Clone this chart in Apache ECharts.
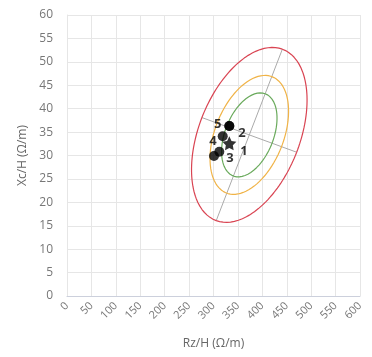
<!DOCTYPE html>
<html><head><meta charset="utf-8">
<script src="https://cdn.jsdelivr.net/npm/echarts@6/dist/echarts.min.js"></script>
<style>html,body{margin:0;padding:0;background:#fff}#c{width:372px;height:357px}</style>
</head><body><div id="c"></div>
<script>
// Measured points
var pointLabels = ['5', '2', '', '3', '4'];
var pointX = [332.4, 332.4, 318.9, 311.9, 301.0];
var pointY = [36.3, 36.3, 34.1, 30.8, 29.9];
var starLabel = ['1'];
var starX = [332.4];
var starY = [32.6];
// Ellipse definition (data units): center, major half-axis vector, minor half-axis vector
var ellipseCenter = [373.3, 34.4];
var ellipseMajor = [67.7, 18.3];
var ellipseMinor = [97.0, -3.7];
var ellipseScales = [1.0, 0.68, 0.48];
var ellipseNames = ['3σ', '2σ', '1.5σ'];
var xTicks = [0, 50, 100, 150, 200, 250, 300, 350, 400, 450, 500, 550, 600];
var yTicks = [0, 5, 10, 15, 20, 25, 30, 35, 40, 45, 50, 55, 60];

var ellipseColors = ['#d94452', '#f0b347', '#6aaa5c'];
var labelStyle = {
  '5': {position: 'left', offset: [2, -2]},
  '2': {position: 'right', offset: [-1, 7]},
  '3': {position: 'right', offset: [-3, 7]},
  '4': {position: 'top', offset: [-1, 2]},
  '1': {position: 'right', offset: [-1, 8]}
};

function ellipsePts(s) {
  var pts = [];
  for (var i = 0; i <= 180; i++) {
    var t = i / 180 * Math.PI * 2;
    pts.push([
      ellipseCenter[0] + s * (Math.cos(t) * ellipseMajor[0] + Math.sin(t) * ellipseMinor[0]),
      ellipseCenter[1] + s * (Math.cos(t) * ellipseMajor[1] + Math.sin(t) * ellipseMinor[1])
    ]);
  }
  return pts;
}
var series = [];
ellipseScales.forEach(function (s, i) {
  series.push({type: 'line', name: ellipseNames[i], data: ellipsePts(s), showSymbol: false, symbol: 'none',
    lineStyle: {color: ellipseColors[i], width: 1.2}, silent: true, z: 2});
});
// principal axes
series.push({type: 'line', data: [
  [ellipseCenter[0] - ellipseMajor[0], ellipseCenter[1] - ellipseMajor[1]],
  [ellipseCenter[0] + ellipseMajor[0], ellipseCenter[1] + ellipseMajor[1]]],
  symbol: 'none', lineStyle: {color: '#aaaaaa', width: 1}, silent: true, z: 1});
series.push({type: 'line', data: [
  [ellipseCenter[0] - ellipseMinor[0], ellipseCenter[1] - ellipseMinor[1]],
  [ellipseCenter[0] + ellipseMinor[0], ellipseCenter[1] + ellipseMinor[1]]],
  symbol: 'none', lineStyle: {color: '#aaaaaa', width: 1}, silent: true, z: 1});

function mkData(xs, ys, labs) {
  return xs.map(function (x, i) {
    var l = labs[i];
    var st = labelStyle[l] || {position: 'right', offset: [0, 0]};
    return {value: [x, ys[i]], name: l, label: {show: !!l, position: st.position, offset: st.offset}};
  });
}
var lbl = {formatter: '{b}', color: '#000', fontSize: 13, fontWeight: 'bold', fontFamily: 'Open Sans'};
series.push({type: 'scatter', data: mkData(pointX, pointY, pointLabels), symbol: 'circle', symbolSize: 10,
  itemStyle: {color: '#000'}, label: lbl, z: 5});
series.push({type: 'scatter', data: mkData(starX, starY, starLabel), symbol: 'path://M0,-10 L2.94,-4.05 9.51,-3.09 4.76,1.55 5.88,8.09 0,5 -5.88,8.09 -4.76,1.55 -9.51,-3.09 -2.94,-4.05 Z', symbolSize: 14,
  itemStyle: {color: '#000'}, label: lbl, z: 5});

var chart = echarts.init(document.getElementById('c'));
chart.setOption({
  animation: false,
  grid: {left: 67, right: 12, top: 15, bottom: 61},
  textStyle: {fontFamily: 'Open Sans'},
  xAxis: {type: 'value', min: xTicks[0], max: xTicks[xTicks.length - 1], interval: 50,
    name: 'Rz/H (Ω/m)', nameLocation: 'middle', nameGap: 42,
    nameTextStyle: {color: '#666', fontSize: 12},
    axisLine: {lineStyle: {color: '#ccd0dc'}}, axisTick: {show: false},
    axisLabel: {rotate: 45, color: '#777', fontSize: 11, margin: 8},
    splitLine: {lineStyle: {color: '#e6e6e6'}}},
  yAxis: {type: 'value', min: yTicks[0], max: yTicks[yTicks.length - 1], interval: 5,
    name: 'Xc/H (Ω/m)', nameLocation: 'middle', nameGap: 38,
    nameTextStyle: {color: '#666', fontSize: 12},
    axisLine: {show: true, lineStyle: {color: '#e6e6e6'}}, axisTick: {show: false},
    axisLabel: {color: '#777', fontSize: 12, margin: 14},
    splitLine: {lineStyle: {color: '#e6e6e6'}}},
  series: series
});
</script></body></html>
